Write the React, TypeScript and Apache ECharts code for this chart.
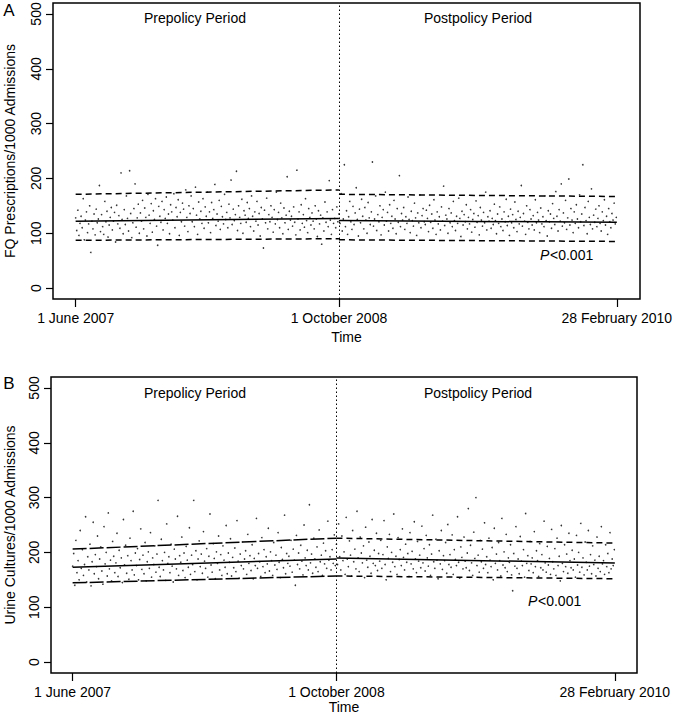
import { useEffect, useRef } from "react";
import * as echarts from "echarts";

// ---- axes ----
const xTickDays = [0, 488, 1003];
const xTickLabels = ["1 June 2007", "1 October 2008", "28 February 2010"];
const yTicks = [0, 100, 200, 300, 400, 500];
const policyDay = 488;
const dayStep = 2;

// ---- Panel A: FQ prescriptions / 1000 admissions (every 2nd day) ----
const fqPre = [
  128,105,142,96,118,131,110,163,88,124,139,101,117,150,65,122,108,135,97,144,
  119,126,187,103,134,112,98,158,121,140,93,115,129,147,106,122,138,84,151,117,
  132,109,210,125,99,143,116,168,127,104,214,136,92,119,145,190,111,128,153,100,
  137,122,160,108,146,129,95,171,133,118,154,102,141,125,163,113,78,149,131,120,
  158,106,143,127,166,118,135,99,152,139,124,172,110,147,130,161,96,138,121,155,
  144,113,179,129,103,150,136,168,121,145,112,184,133,98,157,126,140,118,163,109,
  148,131,175,119,139,101,156,127,143,189,114,135,122,160,107,149,130,117,171,125,
  138,110,153,128,197,116,144,123,134,213,105,150,129,118,162,100,141,133,120,156,
  127,145,112,168,131,104,139,122,158,115,136,95,147,126,73,142,119,164,108,134,
  121,150,129,102,143,117,175,125,138,110,155,128,99,146,119,133,203,107,140,124,
  131,113,148,120,97,215,126,139,106,152,118,134,111,163,123,101,145,129,115,137,
  122,108,150,126,94,141,117,133,80,128,104,157,120,139,112,196,124,98,143,118,
  127,110,148,121,
];
const fqPost = [
  135,118,172,104,126,225,112,141,98,130,158,121,107,149,116,137,183,125,95,144,
  119,162,131,108,147,124,100,156,128,116,139,230,113,126,168,105,134,121,150,97,
  129,143,115,175,122,138,104,152,118,131,109,160,126,99,145,120,205,112,136,124,
  147,107,130,118,166,125,101,140,123,113,155,128,96,137,119,170,110,132,145,121,
  116,142,127,103,151,120,135,109,161,124,98,139,117,130,106,148,122,186,114,133,
  126,100,145,119,137,112,158,123,105,131,118,164,127,94,140,115,134,121,152,108,
  129,117,143,102,125,136,111,159,120,132,97,147,124,113,138,119,175,106,130,122,
  141,109,127,116,153,123,99,135,118,148,112,126,105,139,121,162,114,131,96,144,
  119,134,110,157,125,103,140,117,129,187,113,136,122,98,150,120,108,143,126,115,
  132,106,161,119,138,124,101,146,117,130,112,168,123,95,141,121,135,109,154,127,
  116,176,131,104,143,122,190,113,137,119,160,107,128,199,115,145,124,101,139,118,
  152,126,110,170,121,135,225,114,147,123,99,158,129,116,181,108,133,120,144,112,
  127,150,118,104,139,123,161,115,131,98,145,121,110,136,124,155,117,129,
];
const fqFitPre = [[0, 122], [488, 127]];
const fqFitPost = [[488, 123], [1003, 120]];
const fqUpperPre = [[0, 171], [488, 179]];
const fqUpperPost = [[488, 171], [1003, 167]];
const fqLowerPre = [[0, 87], [488, 90]];
const fqLowerPost = [[488, 88], [1003, 85]];

// ---- Panel B: urine cultures / 1000 admissions (every 2nd day) ----
const ucPre = [
  175,198,140,222,163,185,150,240,171,205,158,178,265,146,192,168,215,139,183,255,
  161,196,174,230,152,188,210,166,142,247,179,200,157,272,170,186,148,220,193,163,
  181,235,156,204,172,190,145,260,177,213,162,194,151,226,185,168,275,159,199,176,
  207,150,187,243,169,195,161,218,148,183,201,171,236,155,190,178,212,164,197,295,
  173,156,224,185,168,200,149,252,180,192,163,215,175,146,206,188,170,266,158,194,
  182,228,167,199,154,211,186,173,245,160,195,178,295,165,203,150,188,221,174,197,
  162,238,184,171,207,155,193,270,177,164,216,189,152,201,180,230,168,196,158,212,
  186,173,249,161,199,182,225,157,191,172,208,165,258,184,153,197,176,219,170,188,
  203,160,233,180,194,167,214,152,189,176,262,171,198,183,156,227,174,205,163,192,
  179,244,166,201,185,158,218,177,195,169,236,182,154,209,187,172,268,161,198,180,
  193,175,222,164,206,186,140,231,178,199,170,213,184,159,250,190,176,204,168,287,
  181,197,162,226,188,173,210,165,241,183,195,158,217,179,203,171,257,186,192,168,
  205,180,232,176,
];
const ucPost = [
  215,178,252,192,168,230,185,201,160,264,188,174,221,195,157,240,183,206,170,275,
  190,165,228,199,181,212,154,246,186,173,219,193,162,260,180,204,176,235,167,198,
  184,222,171,196,258,178,150,210,189,233,165,200,182,270,174,193,160,227,187,205,
  176,243,191,168,215,182,198,156,236,179,202,170,256,188,163,220,184,195,172,248,
  181,207,166,231,190,175,214,158,197,268,183,171,224,186,152,203,179,240,169,194,
  185,218,162,251,178,196,173,232,160,205,187,176,265,182,153,210,191,170,228,184,
  172,199,280,167,213,181,158,237,189,300,176,195,164,222,183,206,171,254,178,192,
  163,226,186,174,209,150,244,180,197,168,218,185,157,262,177,201,172,233,165,190,
  182,214,159,130,198,175,247,171,188,161,229,184,176,205,155,271,180,194,167,220,
  179,190,163,238,174,203,185,156,216,172,196,168,257,181,164,211,177,189,160,242,
  183,170,207,158,226,176,193,148,249,180,165,214,174,197,162,235,185,172,204,168,
  188,155,231,177,200,164,253,173,190,159,219,182,168,240,175,196,161,212,178,186,
  157,228,171,193,165,247,179,185,160,214,174,198,163,236,170,188,176,205,
];
const ucFitPre = [[0, 173], [488, 188]];
const ucFitPost = [[488, 190], [1003, 180.5]];
const ucUpperPre = [[0, 206], [488, 226]];
const ucUpperPost = [[488, 226], [1003, 217]];
const ucLowerPre = [[0, 144.5], [488, 157]];
const ucLowerPost = [[488, 157], [1003, 152]];

const FONT = "'Liberation Sans', Arial, Helvetica, sans-serif";

function toPoints(vals: number[], startDay: number) {
  return vals.map((v, i) => [startDay + i * dayStep, v]);
}

function panelSeries(idx: number, pre: number[], post: number[], lines: { data: number[][]; dash: any; width: number }[]) {
  const out: any[] = [];
  out.push({
    type: "scatter",
    xAxisIndex: idx,
    yAxisIndex: idx,
    data: [...toPoints(pre, 0), ...toPoints(post, policyDay)],
    symbolSize: 1.6,
    itemStyle: { color: "#111", opacity: 0.85 },
    silent: true,
    markLine: {
      silent: true,
      symbol: ["none", "none"],
      label: { show: false },
      lineStyle: { type: [1.5, 2.5], color: "#000", width: 1 },
      data: [{ xAxis: policyDay }],
    },
  });
  lines.forEach((l) => {
    out.push({
      type: "line",
      xAxisIndex: idx,
      yAxisIndex: idx,
      data: l.data,
      showSymbol: false,
      silent: true,
      lineStyle: { color: "#000", width: l.width, type: l.dash },
    });
  });
  return out;
}

export default function App() {
  const ref = useRef<HTMLDivElement>(null);
  useEffect(() => {
    if (!ref.current) return;
    const chart = echarts.init(ref.current, undefined, { renderer: "svg" });
    const xAxisBase = (idx: number, min: number, max: number, nameGap: number) => ({
      type: "value",
      gridIndex: idx,
      min,
      max,
      name: "Time",
      nameLocation: "middle",
      nameGap,
      nameTextStyle: { fontSize: 14, color: "#000", fontFamily: FONT },
      axisLine: { show: false, onZero: false },
      splitLine: { show: false },
      axisTick: { show: true, length: 8, customValues: xTickDays, lineStyle: { color: "#000", width: 1.2 } },
      axisLabel: {
        customValues: xTickDays,
        formatter: (v: number) => {
          const k = xTickDays.indexOf(v);
          return k >= 0 ? xTickLabels[k] : "";
        },
        fontSize: 14,
        color: "#000",
        fontFamily: FONT,
        margin: 12,
      },
    });
    const yAxisBase = (idx: number, name: string, nameGap: number) => ({
      type: "value",
      gridIndex: idx,
      min: -20,
      max: 520,
      name,
      nameLocation: "middle",
      nameGap,
      nameRotate: 90,
      nameTextStyle: { fontSize: 14, color: "#000", fontFamily: FONT },
      axisLine: { show: false, onZero: false },
      splitLine: { show: false },
      axisTick: { show: true, length: 7, customValues: yTicks, lineStyle: { color: "#000", width: 1.2 } },
      axisLabel: {
        customValues: yTicks,
        rotate: 90,
        fontSize: 14,
        color: "#000",
        fontFamily: FONT,
        margin: 10,
      },
    });
    const dash = [6, 4];
    const longDash = [14, 3];
    const text = (x: number, y: number, t: string, opts: any = {}) => ({
      type: "text",
      x,
      y,
      silent: true,
      style: {
        text: t,
        fill: "#000",
        font: `${opts.italic ? "italic " : ""}${opts.size || 14}px ${FONT}`,
        textAlign: opts.align || "center",
        textVerticalAlign: "middle",
      },
    });
    const gridBase = { show: true, borderColor: "#000", borderWidth: 1.5, backgroundColor: "transparent", containLabel: false, outerBoundsMode: "none" };
    chart.setOption({
      animation: false,
      backgroundColor: "#fff",
      grid: [
        { ...gridBase, left: 53, top: 3, width: 587, height: 296 },
        { ...gridBase, left: 51, top: 377, width: 586, height: 296 },
      ],
      xAxis: [xAxisBase(0, -42, 1046, 31), xAxisBase(1, -40, 1044, 25)],
      yAxis: [
        yAxisBase(0, "FQ Prescriptions/1000 Admissions", 36),
        yAxisBase(1, "Urine Cultures/1000 Admissions", 34),
      ],
      series: [
        ...panelSeries(0, fqPre, fqPost, [
          { data: fqFitPre, dash: "solid", width: 1.5 },
          { data: fqFitPost, dash: "solid", width: 1.5 },
          { data: fqUpperPre, dash, width: 1.5 },
          { data: fqUpperPost, dash, width: 1.5 },
          { data: fqLowerPre, dash, width: 1.5 },
          { data: fqLowerPost, dash, width: 1.5 },
        ]),
        ...panelSeries(1, ucPre, ucPost, [
          { data: ucFitPre, dash: "solid", width: 1.5 },
          { data: ucFitPost, dash: "solid", width: 1.5 },
          { data: ucUpperPre, dash: longDash, width: 1.5 },
          { data: ucUpperPost, dash, width: 1.5 },
          { data: ucLowerPre, dash: longDash, width: 1.5 },
          { data: ucLowerPost, dash, width: 1.5 },
        ]),
      ],
      graphic: [
        text(9, 10, "A", { size: 17 }),
        text(9, 383, "B", { size: 17 }),
        text(195, 18, "Prepolicy Period"),
        text(478, 18, "Postpolicy Period"),
        text(195, 393, "Prepolicy Period"),
        text(478, 393, "Postpolicy Period"),
        text(540, 255, "P", { italic: true, align: "left" }),
        text(550, 255, "<0.001", { align: "left" }),
        text(528, 601, "P", { italic: true, align: "left" }),
        text(538, 601, "<0.001", { align: "left" }),
      ],
    });
    return () => chart.dispose();
  }, []);
  return <div ref={ref} style={{ position: "absolute", left: 0, top: 0, width: 674, height: 720 }} />;
}
